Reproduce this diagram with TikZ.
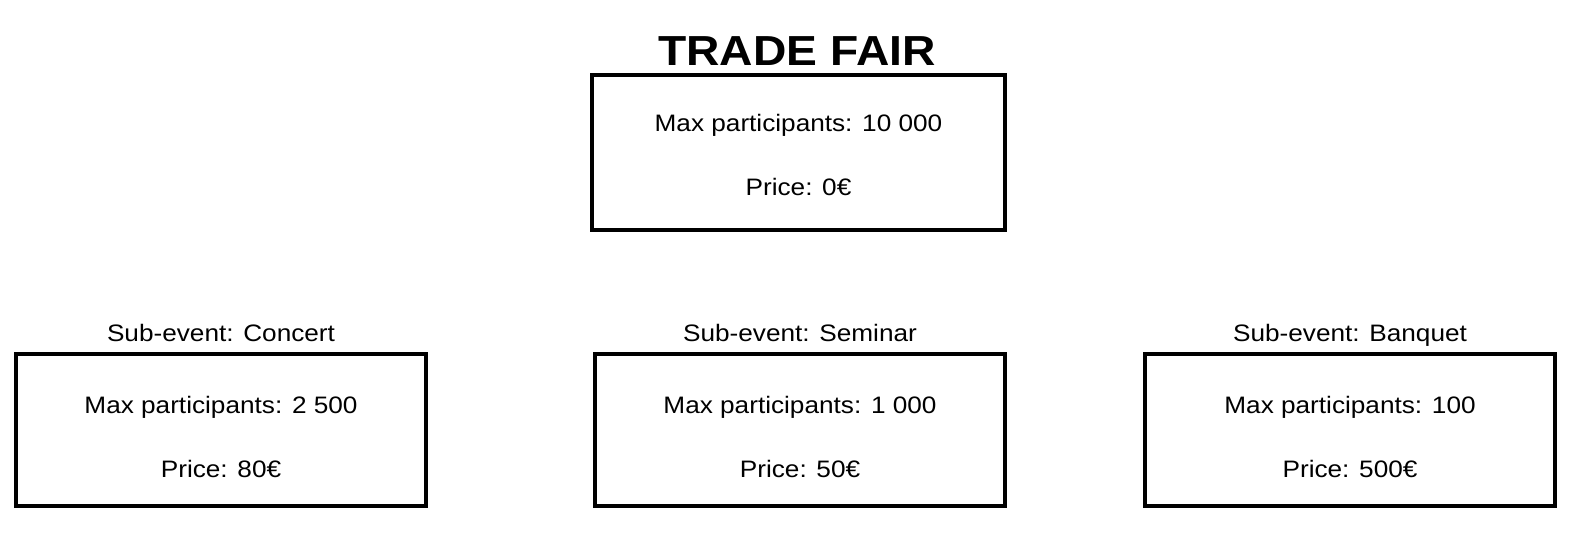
\documentclass[tikz,border=0pt]{standalone}
\usepackage{fontspec}
\setmainfont[FakeStretch=1.1]{Liberation Sans}
\begin{document}
\begin{tikzpicture}[x=0.5pt,y=-0.5pt,
  box/.style={draw=black,line width=2pt,fill=white,rectangle,inner sep=0pt,
    minimum width=205pt,minimum height=76pt},
  bodytext/.style={anchor=base,inner sep=0pt,font=\fontsize{11.9pt}{14pt}\selectfont},
  titletext/.style={anchor=base,inner sep=0pt,font=\fontsize{21pt}{25pt}\selectfont\bfseries}]
\useasboundingbox (0,0) rectangle (1572,537);
% boxes
\node[box,minimum width=206.5pt,minimum height=77.5pt] (top) at (798.5,152.5) {};
\node[box] (concert) at (221,430) {};
\node[box] (seminar) at (800,430) {};
\node[box] (banquet) at (1350,430) {};
% title
\node[titletext] (title) at (797,65) {TRADE FAIR};
\node[bodytext] (topmax) at (798.5,131) {Max participants: 10 000};
\node[bodytext] (topprice) at (798.5,195) {Price: 0€};
% sub-events
\node[bodytext] (concertlbl) at (221,341) {Sub-event: Concert};
\node[bodytext] (concertmax) at (221,413) {Max participants: 2 500};
\node[bodytext] (concertprice) at (221,477) {Price: 80€};
\node[bodytext] (seminarlbl) at (800,341) {Sub-event: Seminar};
\node[bodytext] (seminarmax) at (800,413) {Max participants: 1 000};
\node[bodytext] (seminarprice) at (800,477) {Price: 50€};
\node[bodytext] (banquetlbl) at (1350,341) {Sub-event: Banquet};
\node[bodytext] (banquetmax) at (1350,413) {Max participants: 100};
\node[bodytext] (banquetprice) at (1350,477) {Price: 500€};
\end{tikzpicture}
\end{document}
